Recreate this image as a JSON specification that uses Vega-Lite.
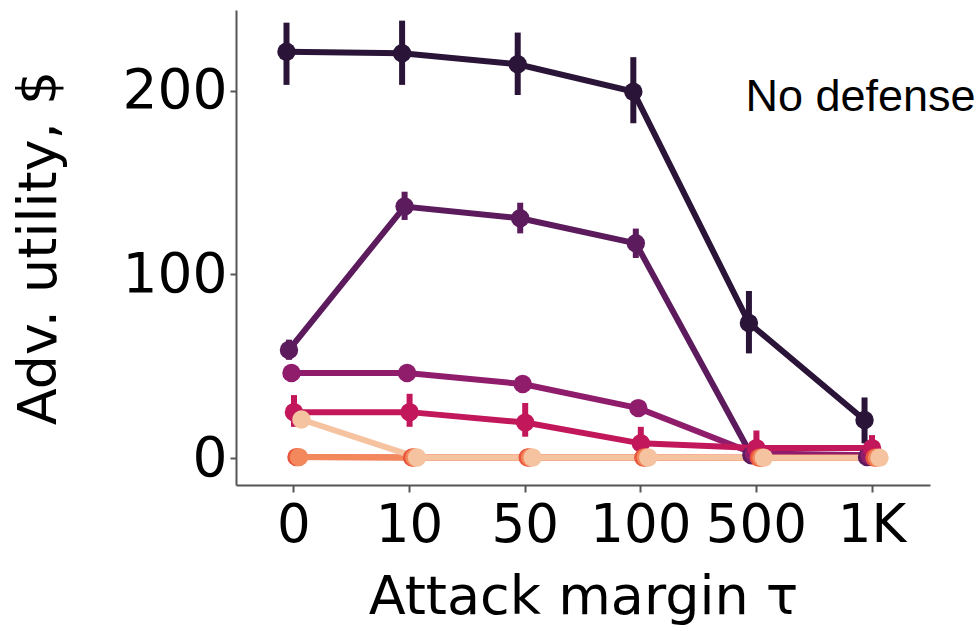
{
  "$schema": "https://vega.github.io/schema/vega-lite/v6.json",
  "width": 694,
  "height": 475,
  "autosize": {"type": "none"},
  "padding": {"left": 236, "top": 10, "right": 48, "bottom": 146},
  "background": "white",
  "config": {"view": {"stroke": null}},
  "datasets": {
    "pts": [
      {"tau": "0", "series": "s1", "value": 221.4, "lo": 203.3, "hi": 237.2},
      {"tau": "10", "series": "s1", "value": 220.5, "lo": 203.3, "hi": 238.3},
      {"tau": "50", "series": "s1", "value": 214.5, "lo": 197.8, "hi": 231.8},
      {"tau": "100", "series": "s1", "value": 199.6, "lo": 182.4, "hi": 218.4},
      {"tau": "500", "series": "s1", "value": 73.6, "lo": 57, "hi": 91},
      {"tau": "1K", "series": "s1", "value": 20.7, "lo": 8, "hi": 33},
      {"tau": "0", "series": "s2", "value": 58.9, "lo": 53.5, "hi": 64.5},
      {"tau": "10", "series": "s2", "value": 137, "lo": 129.7, "hi": 145.1},
      {"tau": "50", "series": "s2", "value": 130.6, "lo": 122.4, "hi": 139.1},
      {"tau": "100", "series": "s2", "value": 117, "lo": 109, "hi": 125},
      {"tau": "500", "series": "s2", "value": 1.5, "lo": 0, "hi": 3},
      {"tau": "1K", "series": "s2", "value": 0.5, "lo": 0, "hi": 1},
      {"tau": "0", "series": "s3", "value": 46.3, "lo": 44.5, "hi": 48},
      {"tau": "10", "series": "s3", "value": 46.3, "lo": 44.5, "hi": 48},
      {"tau": "50", "series": "s3", "value": 40.3, "lo": 38.5, "hi": 42},
      {"tau": "100", "series": "s3", "value": 27.2, "lo": 25.5, "hi": 29},
      {"tau": "500", "series": "s3", "value": 2.5, "lo": 1, "hi": 4},
      {"tau": "1K", "series": "s3", "value": 1.5, "lo": 0.5, "hi": 2.5},
      {"tau": "0", "series": "s4", "value": 25, "lo": 17, "hi": 34.3},
      {"tau": "10", "series": "s4", "value": 25, "lo": 17, "hi": 35},
      {"tau": "50", "series": "s4", "value": 19.3, "lo": 11.6, "hi": 30},
      {"tau": "100", "series": "s4", "value": 8, "lo": 2.7, "hi": 17},
      {"tau": "500", "series": "s4", "value": 5.4, "lo": 0.5, "hi": 15},
      {"tau": "1K", "series": "s4", "value": 5.4, "lo": 0.5, "hi": 12.5},
      {"tau": "0", "series": "s5", "value": 0.5, "lo": 0, "hi": 1},
      {"tau": "10", "series": "s5", "value": 0.3, "lo": 0, "hi": 0.6},
      {"tau": "50", "series": "s5", "value": 0.3, "lo": 0, "hi": 0.6},
      {"tau": "100", "series": "s5", "value": 0.3, "lo": 0, "hi": 0.6},
      {"tau": "500", "series": "s5", "value": 0.2, "lo": 0, "hi": 0.4},
      {"tau": "1K", "series": "s5", "value": 0.2, "lo": 0, "hi": 0.4},
      {"tau": "0", "series": "s6", "value": 0.5, "lo": 0, "hi": 1},
      {"tau": "10", "series": "s6", "value": 0.3, "lo": 0, "hi": 0.6},
      {"tau": "50", "series": "s6", "value": 0.3, "lo": 0, "hi": 0.6},
      {"tau": "100", "series": "s6", "value": 0.3, "lo": 0, "hi": 0.6},
      {"tau": "500", "series": "s6", "value": 0.2, "lo": 0, "hi": 0.4},
      {"tau": "1K", "series": "s6", "value": 0.2, "lo": 0, "hi": 0.4},
      {"tau": "0", "series": "s7", "value": 21, "lo": 20, "hi": 22},
      {"tau": "10", "series": "s7", "value": 0.3, "lo": 0, "hi": 0.6},
      {"tau": "50", "series": "s7", "value": 0.3, "lo": 0, "hi": 0.6},
      {"tau": "100", "series": "s7", "value": 0.3, "lo": 0, "hi": 0.6},
      {"tau": "500", "series": "s7", "value": 0.2, "lo": 0, "hi": 0.4},
      {"tau": "1K", "series": "s7", "value": 0.2, "lo": 0, "hi": 0.4}
    ],
    "label": [{"tau": "500", "value": 196.7, "text": "No defense"}]
  },
  "encoding": {
    "x": {
      "field": "tau",
      "type": "ordinal",
      "sort": ["0", "10", "50", "100", "500", "1K"],
      "scale": {"type": "band", "paddingInner": 0.849, "paddingOuter": 0.426},
      "axis": {
        "title": "Attack margin τ",
        "labelAngle": 0,
        "labelFont": "DejaVu Sans",
        "labelFontSize": 53,
        "labelColor": "black",
        "labelPadding": 7,
        "tickColor": "#555555",
        "tickWidth": 2,
        "tickSize": 7,
        "domainColor": "#555555",
        "domainWidth": 2,
        "titleFont": "DejaVu Sans",
        "titleFontSize": 54,
        "titleFontWeight": "normal",
        "titleColor": "black",
        "titlePadding": 18
      }
    }
  },
  "layer": [
    {
      "data": {"name": "pts"},
      "mark": {"type": "line", "strokeWidth": 6},
      "encoding": {
        "xOffset": {"field": "series", "type": "nominal"},
        "y": {
          "field": "value",
          "type": "quantitative",
          "scale": {"domain": [-14.7, 244.1], "nice": false, "zero": false},
          "axis": {
            "title": "Adv. utility, $",
            "values": [0, 100, 200],
            "grid": false,
            "labelFont": "DejaVu Sans",
            "labelFontSize": 55,
            "labelColor": "black",
            "labelPadding": 3,
            "tickColor": "#555555",
            "tickWidth": 2,
            "tickSize": 6,
            "domainColor": "#555555",
            "domainWidth": 2,
            "titleFont": "DejaVu Sans",
            "titleFontSize": 54,
            "titleFontWeight": "normal",
            "titleColor": "black",
            "titlePadding": 56
          }
        },
        "color": {
          "field": "series",
          "type": "nominal",
          "scale": {
            "domain": ["s1", "s2", "s3", "s4", "s5", "s6", "s7"],
            "range": ["#2a1538", "#5b1b5c", "#8f1d6c", "#c2185b", "#e9553c", "#f2885c", "#f6c3a0"]
          },
          "legend": null
        }
      }
    },
    {
      "data": {"name": "pts"},
      "mark": {"type": "rule", "strokeWidth": 6},
      "encoding": {
        "xOffset": {"field": "series", "type": "nominal"},
        "y": {"field": "lo", "type": "quantitative"},
        "y2": {"field": "hi"},
        "color": {"field": "series", "type": "nominal"}
      }
    },
    {
      "data": {"name": "pts"},
      "mark": {"type": "circle", "size": 340, "opacity": 1},
      "encoding": {
        "xOffset": {"field": "series", "type": "nominal"},
        "y": {"field": "value", "type": "quantitative"},
        "color": {"field": "series", "type": "nominal"}
      }
    },
    {
      "data": {"name": "label"},
      "mark": {"type": "text", "align": "left", "baseline": "middle", "dx": -11, "font": "Liberation Sans", "fontSize": 45, "color": "black"},
      "encoding": {
        "y": {"field": "value", "type": "quantitative"},
        "text": {"field": "text"}
      }
    }
  ]
}
